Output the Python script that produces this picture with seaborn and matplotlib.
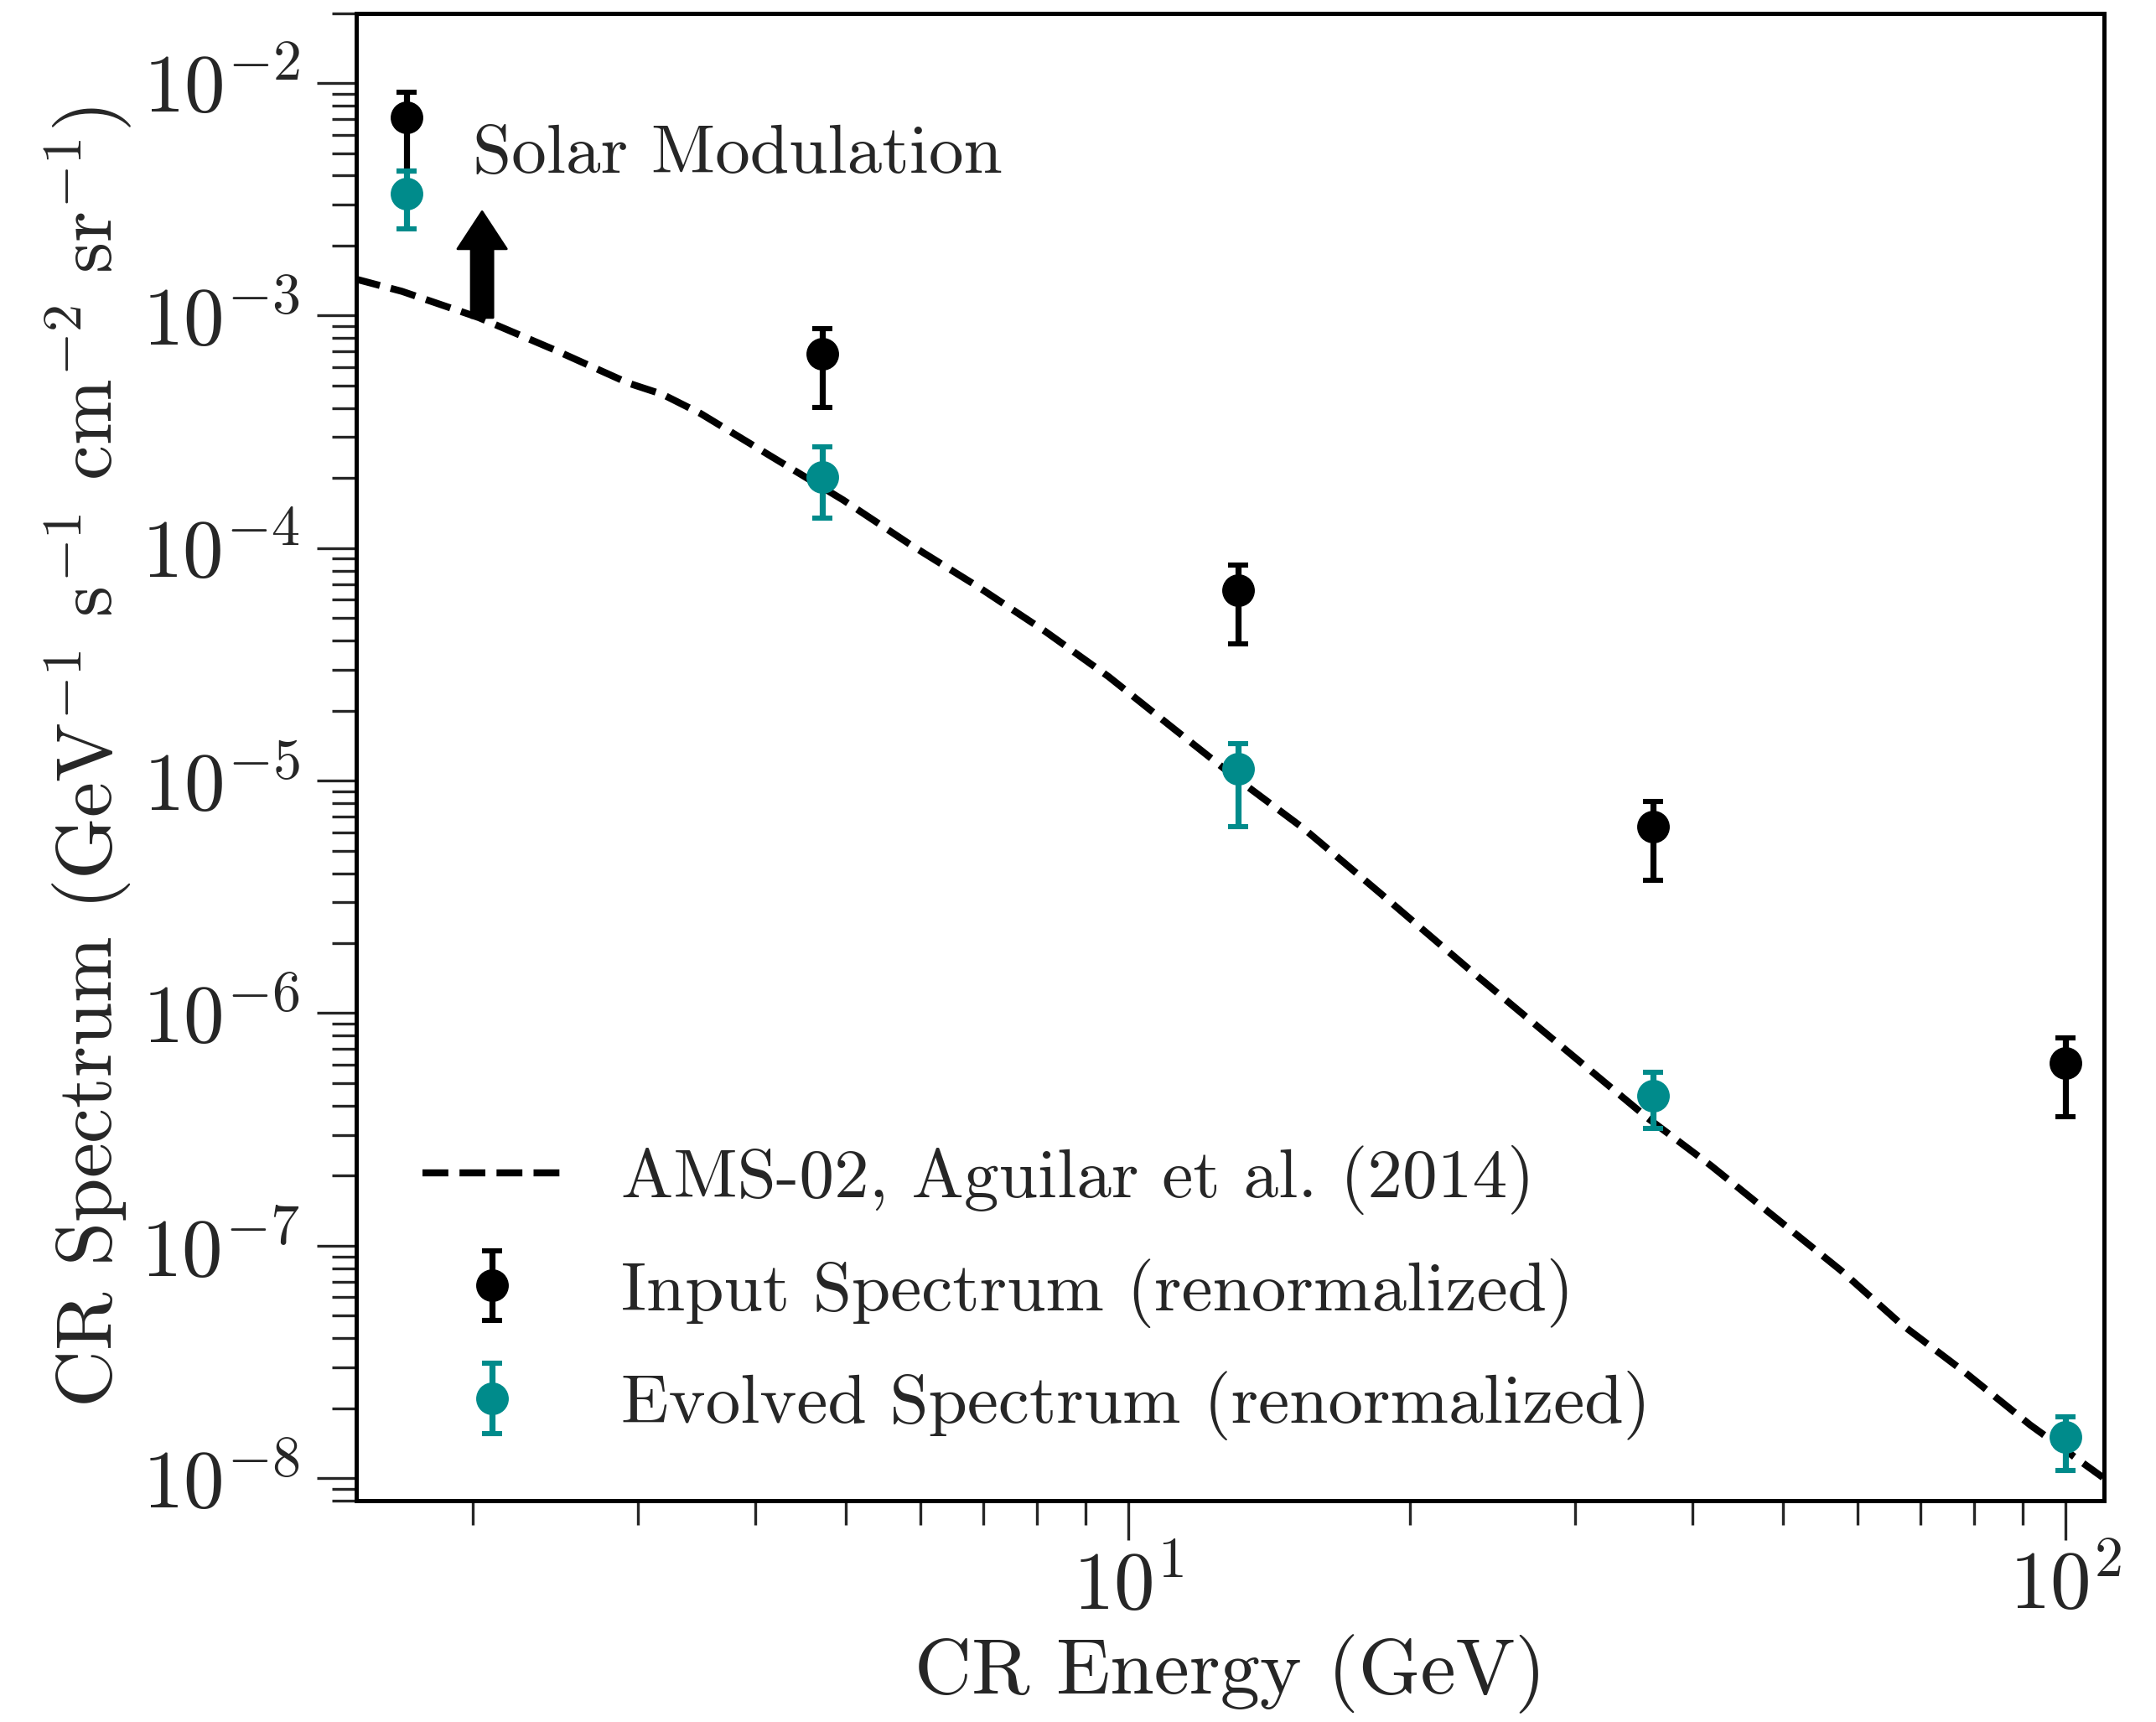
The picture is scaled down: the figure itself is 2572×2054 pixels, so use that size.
import numpy as np
import matplotlib
matplotlib.use("Agg")
import matplotlib.pyplot as plt
from matplotlib.ticker import LogLocator, NullFormatter
import seaborn as sns
import pandas as pd

# Energy bins (GeV) shared by both spectra
energy = [1.70, 4.72, 13.1, 36.3, 100.0]

# Input spectrum (renormalized) with asymmetric errors
input_flux = [7.13e-3, 6.84e-4, 6.61e-5, 6.32e-6, 6.10e-7]
input_err_lo = [2.94e-3, 2.82e-4, 2.74e-5, 2.60e-6, 2.52e-7]
input_err_hi = [2.00e-3, 1.93e-4, 1.84e-5, 1.82e-6, 1.72e-7]

# Evolved spectrum (renormalized)
evolved_flux = [3.34e-3, 2.03e-4, 1.127e-5, 4.42e-7, 1.503e-8]
evolved_err_lo = [0.98e-3, 0.68e-4, 0.492e-5, 1.24e-7, 0.42e-8]
evolved_err_hi = [0.84e-3, 0.70e-4, 0.318e-5, 1.15e-7, 0.33e-8]

# AMS-02 reference curve
ams_energy = [1.496, 1.679, 2.029, 2.442, 2.931, 3.184, 3.499, 4.168, 4.966,
              5.855, 6.905, 8.141, 9.532, 11.22, 13.05, 15.39, 18.68, 23.09,
              28.57, 35.84, 41.87, 49.13, 57.66, 66.64, 78.18, 91.76, 109.7]
ams_flux = [1.439e-3, 1.272e-3, 9.80e-4, 7.13e-4, 5.12e-4, 4.59e-4, 3.79e-4,
            2.47e-4, 1.61e-4, 1.036e-4, 6.85e-5, 4.41e-5, 2.80e-5, 1.657e-5,
            1.023e-5, 6.23e-6, 3.22e-6, 1.55e-6, 7.57e-7, 3.54e-7, 2.21e-7,
            1.314e-7, 7.81e-8, 4.64e-8, 2.85e-8, 1.693e-8, 1.007e-8]

TEAL = "darkcyan"


def main():
    sns.set_style("ticks")
    plt.rcParams["font.family"] = ["cmr10", "DejaVu Serif"]
    plt.rcParams["mathtext.fontset"] = "cm"
    plt.rcParams["axes.formatter.use_mathtext"] = True
    plt.rcParams["axes.unicode_minus"] = False

    fig = plt.figure(figsize=(12.86, 10.27), dpi=200)
    ax = fig.add_axes([0.1651, 0.1285, 0.8108, 0.8639])

    ams = pd.DataFrame({"energy": ams_energy, "flux": ams_flux})
    sns.lineplot(data=ams, x="energy", y="flux", ax=ax, color="black",
                 linestyle="--", linewidth=3, sort=False,
                 label="AMS-02, Aguilar et al. (2014)")

    common = dict(fmt="o", markersize=13, elinewidth=2.6, capsize=4.4,
                  capthick=2.2)
    ax.errorbar(energy, input_flux, yerr=[input_err_lo, input_err_hi],
                color="black", label="Input Spectrum (renormalized)", **common)
    ax.errorbar(energy, evolved_flux, yerr=[evolved_err_lo, evolved_err_hi],
                color=TEAL, label="Evolved Spectrum (renormalized)", **common)

    # Solar modulation marker
    ax.annotate("", xy=(2.045, 2.8e-3), xytext=(2.045, 9.8e-4),
                arrowprops=dict(facecolor="black", edgecolor="black",
                                width=9.4, headwidth=21, headlength=16,
                                shrink=0))
    ax.text(2.0, 4.9e-3, "Solar Modulation", fontsize=30, ha="left",
            va="center")

    ax.set_xscale("log")
    ax.set_yscale("log")
    ax.set_xlim(1.5, 110)
    ax.set_ylim(8e-9, 2e-2)

    ax.xaxis.set_major_locator(LogLocator(base=10, numticks=20))
    ax.yaxis.set_major_locator(LogLocator(base=10, numticks=20))
    ax.xaxis.set_minor_locator(LogLocator(base=10, subs=np.arange(2, 10), numticks=20))
    ax.yaxis.set_minor_locator(LogLocator(base=10, subs=np.arange(2, 10), numticks=20))
    ax.xaxis.set_minor_formatter(NullFormatter())
    ax.yaxis.set_minor_formatter(NullFormatter())

    ax.tick_params(which="both", direction="out", top=False, right=False,
                   width=1.2, labelsize=35)
    ax.tick_params(which="major", length=17)
    ax.tick_params(which="minor", length=10.5)
    ax.tick_params(axis="y", pad=7)
    ax.tick_params(axis="x", pad=4)
    for spine in ax.spines.values():
        spine.set_linewidth(1.8)
        spine.set_color("black")

    ax.set_xlabel("CR Energy (GeV)", fontsize=34, labelpad=4)
    ax.set_ylabel(r"CR Spectrum (GeV$^{-1}$ s$^{-1}$ cm$^{-2}$ sr$^{-1}$)",
                  fontsize=34, labelpad=3)

    ax.legend(loc="lower left", bbox_to_anchor=(0.018, 0.017), frameon=False,
              fontsize=30, handlelength=2.0, handletextpad=0.85,
              labelspacing=0.62, borderpad=0)

    fig.savefig("out.png", dpi=200)
    plt.close(fig)


if __name__ == "__main__":
    main()
